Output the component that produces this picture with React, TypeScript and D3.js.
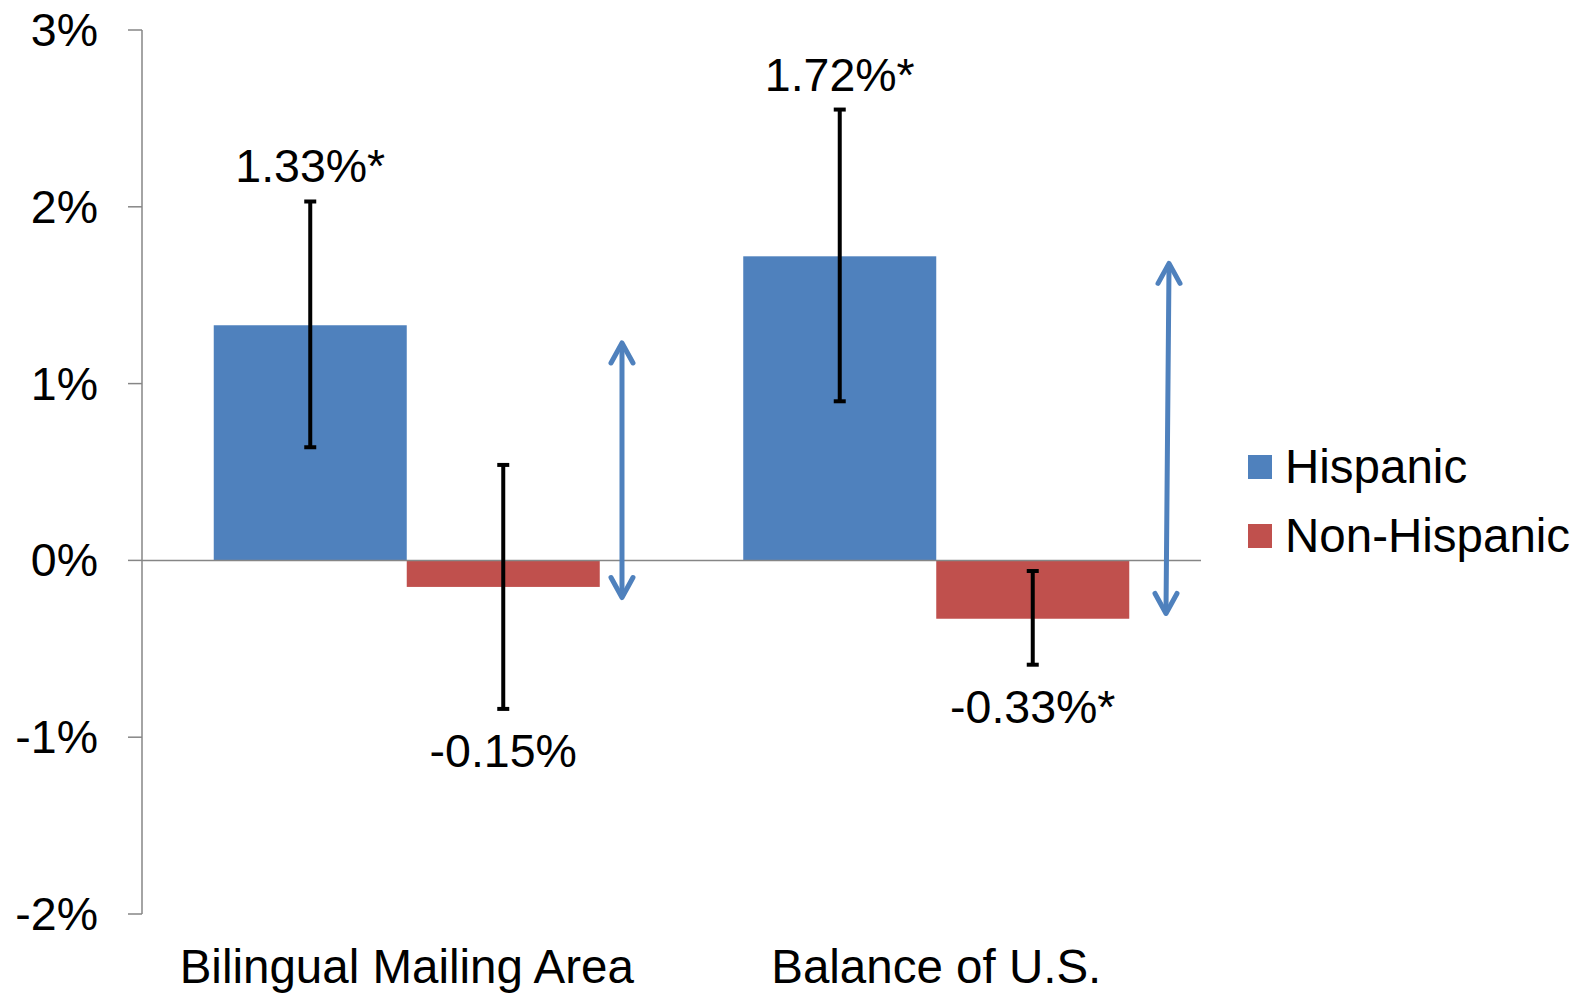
import React from "react";
import * as d3 from "d3";

const categories = ["Bilingual Mailing Area", "Balance of U.S."];
const seriesNames = ["Hispanic", "Non-Hispanic"];
const seriesColors = ["#4F81BD", "#C0504D"];
const hispanicValues = [1.33, 1.72];
const nonHispanicValues = [-0.15, -0.33];
const hispanicLow = [0.64, 0.9];
const hispanicHigh = [2.03, 2.55];
const nonHispanicLow = [-0.84, -0.59];
const nonHispanicHigh = [0.54, -0.06];
const hispanicLabels = ["1.33%*", "1.72%*"];
const nonHispanicLabels = ["-0.15%", "-0.33%*"];
const yTicks = [3, 2, 1, 0, -1, -2];
// difference arrows (in category-index units and value units)
const arrowXTop = [0.4065, 1.4396];
const arrowXBottom = [0.4065, 1.4339];
const arrowTop = [1.23, 1.68];
const arrowBottom = [-0.21, -0.3];

const FONT = "'Liberation Sans', Arial, sans-serif";

export default function App() {
  const W = 1583;
  const H = 995;
  const left = 142;
  const right = 1201;
  const y = d3.scaleLinear().domain([-2, 3]).range([914, 30]);
  const x0 = d3
    .scaleBand<string>()
    .domain(categories)
    .range([left, right])
    .paddingInner(0.271)
    .paddingOuter(0.1355);
  const x1 = d3
    .scaleBand<string>()
    .domain(seriesNames)
    .range([0, x0.bandwidth()]);
  const xLin = d3.scaleLinear().domain([-0.5, 1.5]).range([left, right]);

  const series = [
    { name: seriesNames[0], color: seriesColors[0], values: hispanicValues, lo: hispanicLow, hi: hispanicHigh, labels: hispanicLabels },
    { name: seriesNames[1], color: seriesColors[1], values: nonHispanicValues, lo: nonHispanicLow, hi: nonHispanicHigh, labels: nonHispanicLabels },
  ];

  const zero = y(0);
  const arrowColor = "#4F81BD";
  const head = (tx: number, ty: number, dir: number) => {
    const len = 20;
    const half = 11;
    const p = d3.path();
    p.moveTo(tx - half, ty + dir * len);
    p.lineTo(tx, ty);
    p.lineTo(tx + half, ty + dir * len);
    return p.toString();
  };

  return (
    <svg width={W} height={H} style={{ position: "absolute", left: 0, top: 0, background: "#fff" }}>
      <rect x={0} y={0} width={W} height={H} fill="#fff" />
      {series.map((s) =>
        categories.map((c, i) => {
          const v = s.values[i];
          const bx = (x0(c) as number) + (x1(s.name) as number);
          return (
            <rect
              key={s.name + c}
              x={bx}
              y={Math.min(y(v), zero)}
              width={x1.bandwidth()}
              height={Math.abs(y(v) - zero)}
              fill={s.color}
            />
          );
        })
      )}
      <line x1={left} x2={left} y1={y(3)} y2={y(-2)} stroke="#868686" strokeWidth={1.5} />
      {yTicks.map((t) => (
        <g key={t}>
          <line x1={left - 14} x2={left} y1={y(t)} y2={y(t)} stroke="#868686" strokeWidth={1.5} />
          <text x={98} y={y(t) + 16} textAnchor="end" fontFamily={FONT} fontSize={46.5} fill="#000">
            {t + "%"}
          </text>
        </g>
      ))}
      <line x1={left} x2={right} y1={zero} y2={zero} stroke="#868686" strokeWidth={1.5} />
      {series.map((s) =>
        categories.map((c, i) => {
          const cx = (x0(c) as number) + (x1(s.name) as number) + x1.bandwidth() / 2;
          const yl = y(s.lo[i]);
          const yh = y(s.hi[i]);
          return (
            <g key={"e" + s.name + c} stroke="#000">
              <line x1={cx} x2={cx} y1={yh} y2={yl} strokeWidth={4} />
              <line x1={cx - 6} x2={cx + 6} y1={yh} y2={yh} strokeWidth={4} />
              <line x1={cx - 6} x2={cx + 6} y1={yl} y2={yl} strokeWidth={4} />
            </g>
          );
        })
      )}
      {series.map((s) =>
        categories.map((c, i) => {
          const cx = (x0(c) as number) + (x1(s.name) as number) + x1.bandwidth() / 2;
          const v = s.values[i];
          const ly = v >= 0 ? y(s.hi[i]) - 19 : y(s.lo[i]) + 58;
          return (
            <text key={"l" + s.name + c} x={cx} y={ly} textAnchor="middle" fontFamily={FONT} fontSize={46.5} fill="#000">
              {s.labels[i]}
            </text>
          );
        })
      )}
      {arrowTop.map((t, i) => {
        const xt = xLin(arrowXTop[i]);
        const xb = xLin(arrowXBottom[i]);
        const yt = y(t);
        const yb = y(arrowBottom[i]);
        return (
          <g key={"a" + i} stroke={arrowColor} strokeWidth={5} fill="none" strokeLinecap="round" strokeLinejoin="round">
            <line x1={xt} y1={yt + 2} x2={xb} y2={yb - 2} />
            <path d={head(xt, yt, 1)} />
            <path d={head(xb, yb, -1)} />
          </g>
        );
      })}
      {categories.map((c) => (
        <text
          key={"c" + c}
          x={(x0(c) as number) + x0.bandwidth() / 2}
          y={983}
          textAnchor="middle"
          fontFamily={FONT}
          fontSize={47.5}
          fill="#000"
        >
          {c}
        </text>
      ))}
      {seriesNames.map((n, i) => (
        <g key={"lg" + n}>
          <rect x={1248} y={455 + i * 69} width={24} height={24} fill={seriesColors[i]} />
          <text x={1285} y={483 + i * 69} fontFamily={FONT} fontSize={47.5} fill="#000">
            {n}
          </text>
        </g>
      ))}
    </svg>
  );
}
